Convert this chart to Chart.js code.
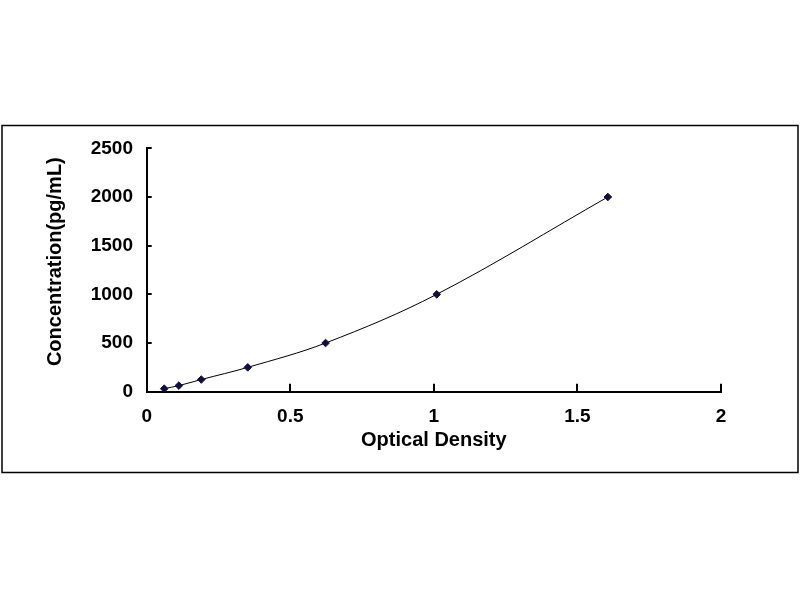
<!DOCTYPE html>
<html>
<head>
<meta charset="utf-8">
<script src="https://cdn.jsdelivr.net/npm/chart.js@4/dist/chart.umd.min.js"></script>
<style>
  html, body { margin: 0; padding: 0; background: #fff; }
  #wrap { position: absolute; left: 0; top: 0; width: 800px; height: 600px; }
</style>
</head>
<body>
<div id="wrap"><canvas id="c" width="800" height="600"></canvas></div>
<script>
// Data
const opticalDensity = [0.061, 0.112, 0.190, 0.352, 0.623, 1.010, 1.606];
const concentration = [31.25, 62.5, 125, 250, 500, 1000, 2000];
const xTicks = [0, 0.5, 1, 1.5, 2];
const yTicks = [0, 500, 1000, 1500, 2000, 2500];
const xTitle = 'Optical Density';
const yTitle = 'Concentration(pg/mL)';

const points = opticalDensity.map((x, i) => ({ x: x, y: concentration[i] }));

const framePlugin = {
  id: 'frame',
  beforeDraw(chart) {
    const ctx = chart.ctx;
    ctx.save();
    ctx.fillStyle = '#ffffff';
    ctx.fillRect(0, 0, chart.width, chart.height);
    ctx.strokeStyle = '#000000';
    ctx.lineWidth = 1.5;
    ctx.strokeRect(2, 125.5, 796, 347);
    ctx.restore();
  }
};

const font = { family: '"Liberation Sans", Arial, sans-serif', weight: 'bold' };

new Chart(document.getElementById('c'), {
  type: 'scatter',
  data: {
    datasets: [{
      data: points,
      showLine: true,
      borderColor: '#000000',
      borderWidth: 1,
      tension: 0.35,
      pointStyle: 'rectRot',
      pointRadius: 3.8,
      pointBackgroundColor: '#10103e',
      pointBorderColor: '#10103e',
      pointBorderWidth: 1
    }]
  },
  options: {
    responsive: false,
    animation: false,
    devicePixelRatio: 1,
    layout: { padding: { left: 43, top: 148.3, right: 79, bottom: 148 } },
    plugins: { legend: { display: false }, tooltip: { enabled: false } },
    scales: {
      x: {
        type: 'linear',
        min: 0, max: 2,
        afterBuildTicks(scale) { scale.ticks = xTicks.map(v => ({ value: v })); },
        afterFit(scale) { scale.height = 60.3; },
        border: { display: true, color: '#000000', width: 2 },
        grid: { drawOnChartArea: false, drawTicks: true, tickLength: -8, color: '#000000', lineWidth: 2 },
        ticks: { color: '#000000', padding: 22, font: Object.assign({ size: 19 }, font), maxRotation: 0,
                 callback: v => String(v) },
        title: { display: true, text: xTitle, color: '#000000', padding: 0, font: Object.assign({ size: 20, lineHeight: 1.2 }, font) }
      },
      y: {
        type: 'linear',
        min: 0, max: 2500,
        afterBuildTicks(scale) { scale.ticks = yTicks.map(v => ({ value: v })); },
        afterFit(scale) { scale.width = 103.7; },
        border: { display: true, color: '#000000', width: 2 },
        grid: { drawOnChartArea: false, drawTicks: true, tickLength: -5, color: '#000000', lineWidth: 2 },
        ticks: { color: '#000000', padding: 18.7, font: Object.assign({ size: 19 }, font),
                 callback: v => String(v) },
        title: { display: true, text: '   ' + yTitle, color: '#000000', padding: 0, font: Object.assign({ size: 20, lineHeight: 1.2 }, font) }
      }
    }
  },
  plugins: [framePlugin]
});
</script>
</body>
</html>
